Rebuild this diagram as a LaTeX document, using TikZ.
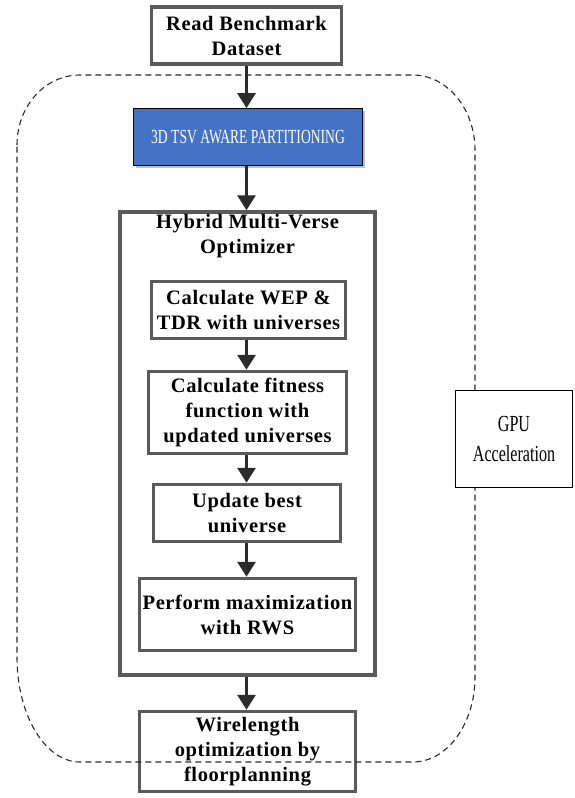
\documentclass[tikz,border=0pt]{standalone}
\usepackage{fontspec}
\setmainfont{Liberation Serif}
\newfontfamily\lblfont{Liberation Serif}[LetterSpace=3]
\newfontfamily\narrowfont{Liberation Serif}[FakeStretch=0.68]
\newfontfamily\gpufont{Liberation Serif}[FakeStretch=0.7]
\usetikzlibrary{arrows.meta,shadows}
\definecolor{edgegray}{HTML}{5A5A5A}
\definecolor{arrowdark}{HTML}{2B2B2B}
\definecolor{partblue}{HTML}{4472C4}
\tikzset{
  stepbox/.style={draw=edgegray, line width=3.5pt, fill=white, align=center,
    font=\lblfont\bfseries\fontsize{20.5}{25}\selectfont, inner sep=0pt},
  flow/.style={draw=arrowdark, line width=3pt,
    -{Triangle[width=18pt,length=15pt]}},
  boundary/.style={draw=arrowdark, line width=1.1pt, dash pattern=on 6pt off 4pt}
}
\begin{document}
\begin{tikzpicture}[x=1pt,y=-1pt]
\useasboundingbox (0,0) rectangle (574,798);

% outer optimizer frame
\node[stepbox, minimum width=255pt, minimum height=463pt] (hmvo) at (247.5,443.5) {};
\node[align=center, font=\lblfont\bfseries\fontsize{20.5}{25}\selectfont] (hmvotitle) at (247.5,236.5)
  {Hybrid Multi-Verse\\Optimizer};

% flow steps
\node[stepbox, minimum width=190pt, minimum height=57pt] (read) at (246.5,35.5)
  {Read Benchmark\\Dataset};
\node[draw=black, line width=0.8pt, fill=partblue, minimum width=229pt, minimum height=57pt,
  drop shadow={shadow xshift=2pt, shadow yshift=-2pt, opacity=0.5},
  font=\narrowfont\fontsize{20}{24}\selectfont, text=white] (part) at (248,137)
  {3D TSV AWARE PARTITIONING};
\node[stepbox, minimum width=194pt, minimum height=57pt] (wep) at (248.5,310)
  {Calculate WEP \&\\TDR with universes};
\node[stepbox, minimum width=198pt, minimum height=82pt] (fit) at (247.5,412.5)
  {Calculate fitness\\function with\\updated universes};
\node[stepbox, minimum width=187pt, minimum height=57pt] (best) at (247,513)
  {Update best\\universe};
\node[stepbox, minimum width=216pt, minimum height=72pt] (rws) at (247.5,614.5)
  {Perform maximization\\with RWS};
\node[stepbox, minimum width=216pt, minimum height=80pt, fill=none] (wire) at (247.5,751.5)
  {Wirelength\\optimization by\\floorplanning};

% connectors
\draw[flow] (read.south) -- (read.south |- part.north);
\draw[flow] (read.south |- part.south) -- (read.south |- hmvo.north);
\draw[flow] (read.south |- wep.south) -- (read.south |- fit.north);
\draw[flow] (read.south |- fit.south) -- (read.south |- best.north);
\draw[flow] (read.south |- best.south) -- (read.south |- rws.north);
\draw[flow] (read.south |- hmvo.south) -- (read.south |- wire.north);

% dashed acceleration region
\coordinate (tl1) at (17,145);
\coordinate (tl2) at (80,75);
\coordinate (tr1) at (413,75);
\coordinate (tr2) at (475,150);
\coordinate (br1) at (475,677);
\coordinate (br2) at (413,762);
\coordinate (bl1) at (80,762);
\coordinate (bl2) at (17,657);
\draw[boundary] (tl1) .. controls (17,106) and (45,75) .. (tl2) -- (tr1)
  .. controls (447,75) and (475,109) .. (tr2) -- (br1)
  .. controls (475,724) and (447,762) .. (br2) -- (bl1)
  .. controls (45,762) and (17,715) .. (bl2) -- cycle;

% GPU label box over the dashed edge
\node[draw=black, line width=0.8pt, fill=white, minimum width=117pt, minimum height=97pt,
  align=center, font=\gpufont\fontsize{23}{30}\selectfont] (gpu) at (514,439)
  {GPU\\Acceleration};
\end{tikzpicture}
\end{document}
